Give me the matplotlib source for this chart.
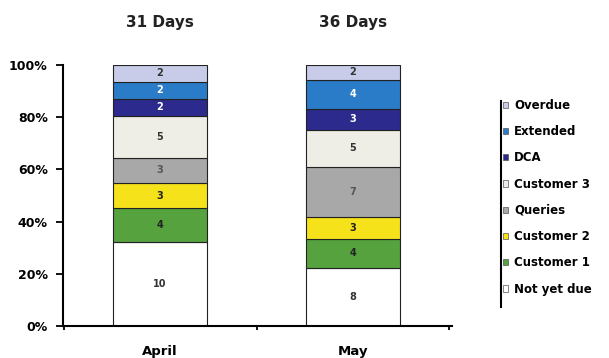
import matplotlib
matplotlib.use("Agg")
from matplotlib import pyplot as plt
from matplotlib import transforms
from matplotlib.patches import Patch
from matplotlib.lines import Line2D
import numpy as np

# days per status, bottom to top
months = ["April", "May"]
titles = ["31 Days", "36 Days"]
statuses = ["Not yet due", "Customer 1", "Customer 2", "Queries",
            "Customer 3", "DCA", "Extended", "Overdue"]
april = [10, 4, 3, 3, 5, 2, 2, 2]
may = [8, 4, 3, 7, 5, 3, 4, 2]
y_ticks = [0, 20, 40, 60, 80, 100]
y_tick_labels = ["0%", "20%", "40%", "60%", "80%", "100%"]

colors = ["#ffffff", "#55a23f", "#f6e21a", "#a8a8a8",
          "#eeeee6", "#2c2a8c", "#2b7cc8", "#c9cce8"]
text_colors = ["#333333", "#222222", "#222222", "#555555",
               "#333333", "#ffffff", "#ffffff", "#333333"]

plt.rcParams['font.family'] = ['DejaVu Sans']
fig = plt.figure(figsize=(6.09, 3.58), dpi=100)
ax = fig.add_axes([63/609, 1-326/358, (452-63)/609, (326-65)/358])

data = np.array([april, may], dtype=float)
pct = data / data.sum(axis=1, keepdims=True) * 100
x = np.arange(len(months))
bottom = np.zeros(len(months))
for i, name in enumerate(statuses):
    ax.bar(x, pct[:, i], 0.49, bottom=bottom, color=colors[i],
           edgecolor="#222222", linewidth=0.8, label=name)
    for j in range(len(months)):
        ax.text(x[j], bottom[j] + pct[j, i] / 2, str(int(data[j, i])),
                ha="center", va="center", fontsize=7, fontweight="bold",
                color=text_colors[i])
    bottom += pct[:, i]

ax.set_xlim(-0.503, 1.513)
ax.set_ylim(0, 100)
ax.set_yticks(y_ticks)
ax.set_yticklabels(y_tick_labels, fontsize=9, fontweight="bold")
ax.set_xticks(x)
ax.set_xticklabels(months, fontsize=9.5, fontweight="bold")
ax.tick_params(axis="x", length=0, pad=14)
ax.tick_params(axis="y", length=5, width=1.3, pad=6)
ax.set_xticks([-0.5, 0.5, 1.5], minor=True)
ax.tick_params(axis="x", which="minor", length=3, width=1.3)
for s in ["top", "right"]:
    ax.spines[s].set_visible(False)
for s in ["left", "bottom"]:
    ax.spines[s].set_linewidth(1.5)

trans = transforms.blended_transform_factory(ax.transData, fig.transFigure)
for xi, t in zip(x, titles):
    ax.text(xi, 1 - 23/358, t, transform=trans, ha="center", va="center",
            fontsize=11, fontweight="bold", color="#222222")

handles = [Patch(facecolor=colors[i], edgecolor="#555555", linewidth=0.5)
           for i in range(len(statuses))][::-1]
fig.legend(handles, statuses[::-1], loc="upper left",
           bbox_to_anchor=(503/609, 1 - 99/358), frameon=False,
           borderpad=0, borderaxespad=0, handlelength=0.45, handleheight=0.45,
           handletextpad=0.5, labelspacing=1.12,
           prop={"size": 8.5, "weight": "bold"})
fig.add_artist(Line2D([501/609, 501/609], [1 - 101/358, 1 - 307/358],
                      color="black", linewidth=1.5))

fig.savefig("out.png", dpi=100)
